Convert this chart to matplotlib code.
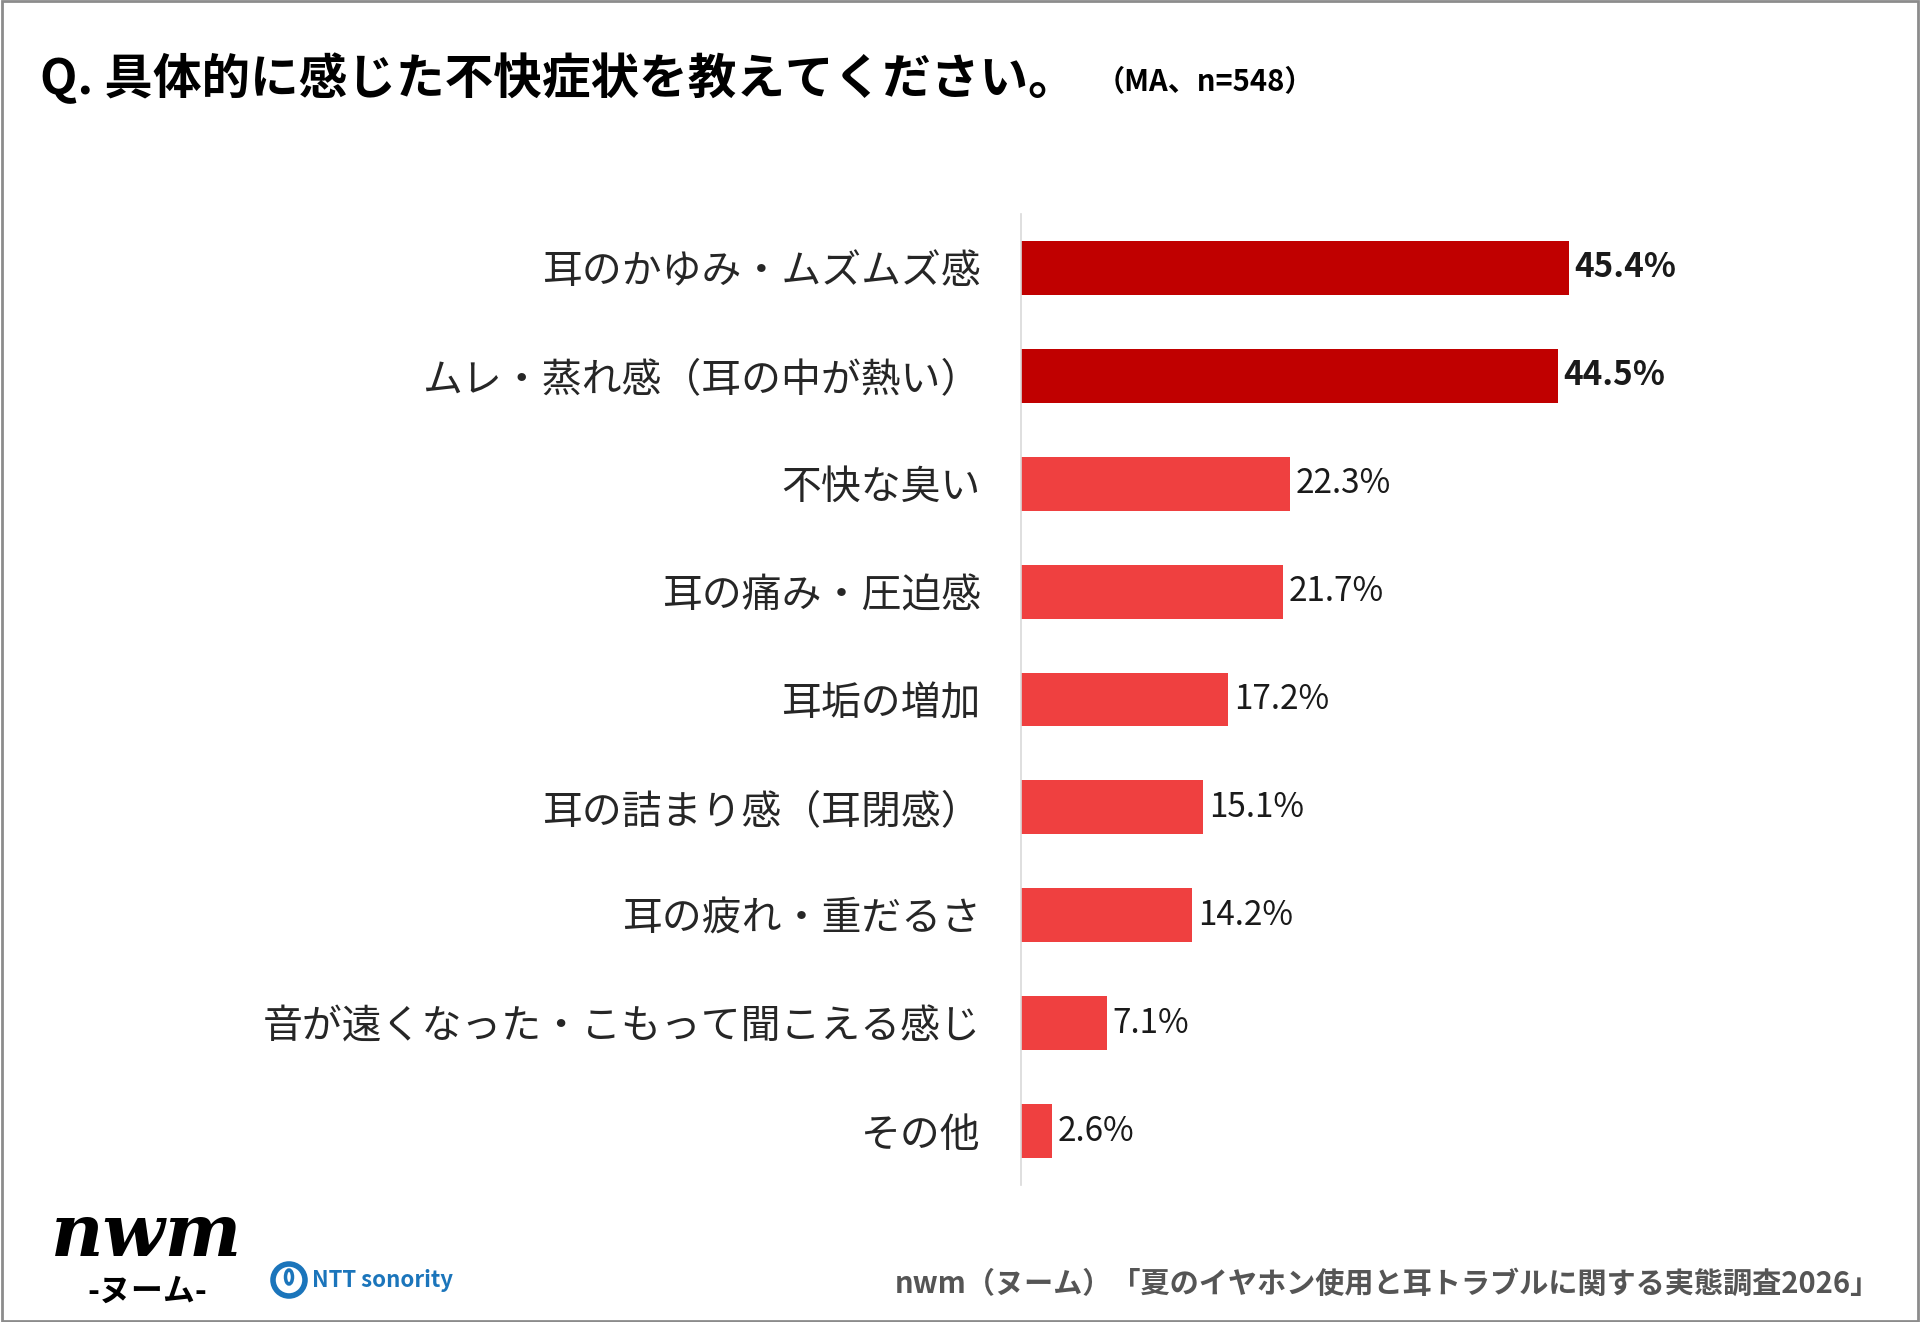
import matplotlib
matplotlib.use("Agg")
from matplotlib import pyplot as plt
from matplotlib.patches import Rectangle, Ellipse

plt.rcParams['font.family'] = ['Noto Sans CJK JP', 'DejaVu Sans']

# data
categories = ['耳のかゆみ・ムズムズ感', 'ムレ・蒸れ感（耳の中が熱い）', '不快な臭い',
              '耳の痛み・圧迫感', '耳垢の増加', '耳の詰まり感（耳閉感）',
              '耳の疲れ・重だるさ', '音が遠くなった・こもって聞こえる感じ', 'その他']
values = [45.4, 44.5, 22.3, 21.7, 17.2, 15.1, 14.2, 7.1, 2.6]
highlight = [True, True, False, False, False, False, False, False, False]

title = 'Q. 具体的に感じた不快症状を教えてください。'
note = '（MA、n=548）'
source = 'nwm（ヌーム）「夏のイヤホン使用と耳トラブルに関する実態調査2026」'

dark_red = '#C00000'
light_red = '#EF4040'

fig = plt.figure(figsize=(19.2, 13.22), dpi=100)
fig.patch.set_facecolor('white')

ax = fig.add_axes([1021 / 1920, 1 - 1185 / 1322, 603 / 1920, 971 / 1322])
ypos = list(range(len(categories)))
colors = [dark_red if h else light_red for h in highlight]
ax.barh(ypos, values, height=0.5, color=colors)
ax.set_xlim(0, 50)
ax.set_ylim(len(categories) - 0.5, -0.5)
ax.set_yticks(ypos)
ax.set_yticklabels(categories, fontsize=28.7, color='#262626')
ax.tick_params(axis='y', length=0, pad=29)
ax.set_xticks([])
for side in ['top', 'right', 'bottom']:
    ax.spines[side].set_visible(False)
ax.spines['left'].set_color('#d9d9d9')
ax.spines['left'].set_linewidth(1.2)

for y, v, h in zip(ypos, values, highlight):
    ax.annotate(f'{v}%', (v, y), xytext=(4, 0), textcoords='offset points',
                va='center', ha='left', fontsize=24,
                fontweight='bold' if h else 'normal', color='#1a1a1a')

# title
fig.text(40 / 1920, 1 - 78 / 1322, title, fontsize=35, fontweight='bold',
         va='center', ha='left', color='black')
fig.text(1096 / 1920, 1 - 82 / 1322, note, fontsize=21, fontweight='bold',
         va='center', ha='left', color='black')

# source
fig.text(1880 / 1920, 1 - 1284 / 1322, source, fontsize=21, fontweight='bold',
         va='center', ha='right', color='#555555')

# logos
fig.text(147 / 1920, 1 - 1236 / 1322, 'nwm', fontsize=52, fontweight='bold',
         fontstyle='italic', family='DejaVu Serif', va='center', ha='center',
         color='black')
fig.text(147 / 1920, 1 - 1292 / 1322, '-ヌーム-', fontsize=23, fontweight='bold',
         va='center', ha='center', color='black')
fig.patches.append(Ellipse((289 / 1920, 1 - 1280 / 1322), 32 / 1920, 32 / 1322,
                           transform=fig.transFigure, fill=False,
                           edgecolor='#1B75BB', linewidth=4))
fig.patches.append(Ellipse((289 / 1920, 1 - 1277 / 1322), 7 / 1920, 14 / 1322,
                           transform=fig.transFigure, fill=False,
                           edgecolor='#1B75BB', linewidth=2.5))
fig.text(312 / 1920, 1 - 1280 / 1322, 'NTT sonority', fontsize=16, fontweight='bold',
         va='center', ha='left', color='#1B75BB')

# frame
fig.patches.append(Rectangle((0.001, 0.001), 0.998, 0.998, transform=fig.transFigure,
                             fill=False, edgecolor='#8c8c8c', linewidth=2))

fig.savefig('out.png', dpi=100, facecolor='white')
